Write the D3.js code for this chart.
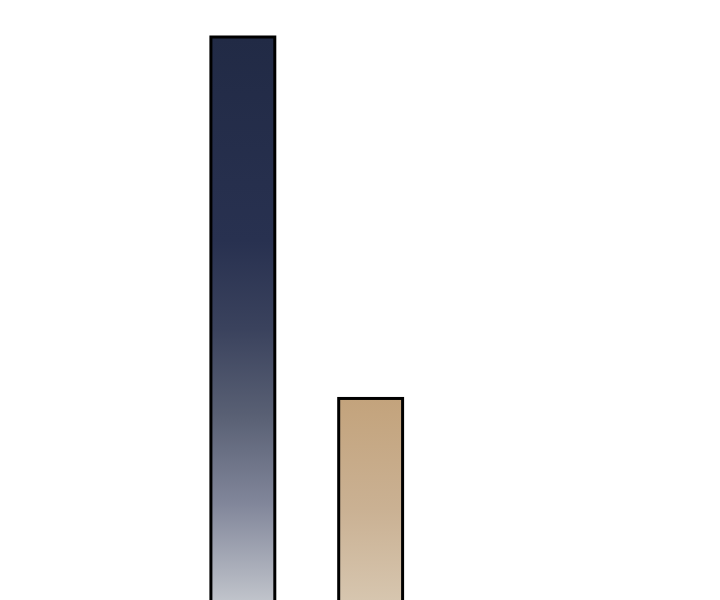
<!DOCTYPE html>
<html>
<head>
	<meta charset="UTF-8">
	<title></title>
	<style type="text/css">
		body { margin: 0; background: #fff; }
	</style>
</head>
<body>
	<svg class="chart"></svg>
	<script src="https://cdn.jsdelivr.net/npm/d3@7/dist/d3.min.js"></script>
	<script type="text/javascript">
		var categories = ["A", "B"];
		var values = [100, 38];
		var stops_a = [
			[0, "#212a45"], [0.35, "#283150"], [0.5, "#3a425d"],
			[0.65, "#596074"], [0.8, "#81869a"], [0.92, "#aeb2bd"], [1, "#cdd0d5"]
		];
		var stops_b = [
			[0, "#c3a37c"], [0.5, "#cab193"], [0.9, "#d6c5ae"], [1, "#dacbb6"]
		];

		var width = 720, height = 600;
		var svg = d3.select(".chart").attr("width", width).attr("height", height);

		var x = d3.scaleBand().domain(categories).range([147, 466.5]).padding(0.5);
		// baseline sits below the visible area
		var y = d3.scaleLinear().domain([0, 100]).range([620, 37]);

		var defs = svg.append("defs");
		[stops_a, stops_b].forEach(function(stops, i) {
			var grad = defs.append("linearGradient")
				.attr("id", "g" + i)
				.attr("x1", 0).attr("y1", 0).attr("x2", 0).attr("y2", 1);
			grad.selectAll("stop").data(stops).enter().append("stop")
				.attr("offset", function(d) { return d[0]; })
				.attr("stop-color", function(d) { return d[1]; });
		});

		svg.selectAll("rect.bar")
			.data(values)
			.enter().append("rect").classed("bar", true)
			.attr("x", function(d, i) { return x(categories[i]); })
			.attr("y", function(d) { return y(d); })
			.attr("width", x.bandwidth())
			.attr("height", function(d) { return y(0) - y(d); })
			.attr("fill", function(d, i) { return "url(#g" + i + ")"; })
			.attr("stroke", "#000")
			.attr("stroke-width", 3);
	</script>
</body>
</html>
